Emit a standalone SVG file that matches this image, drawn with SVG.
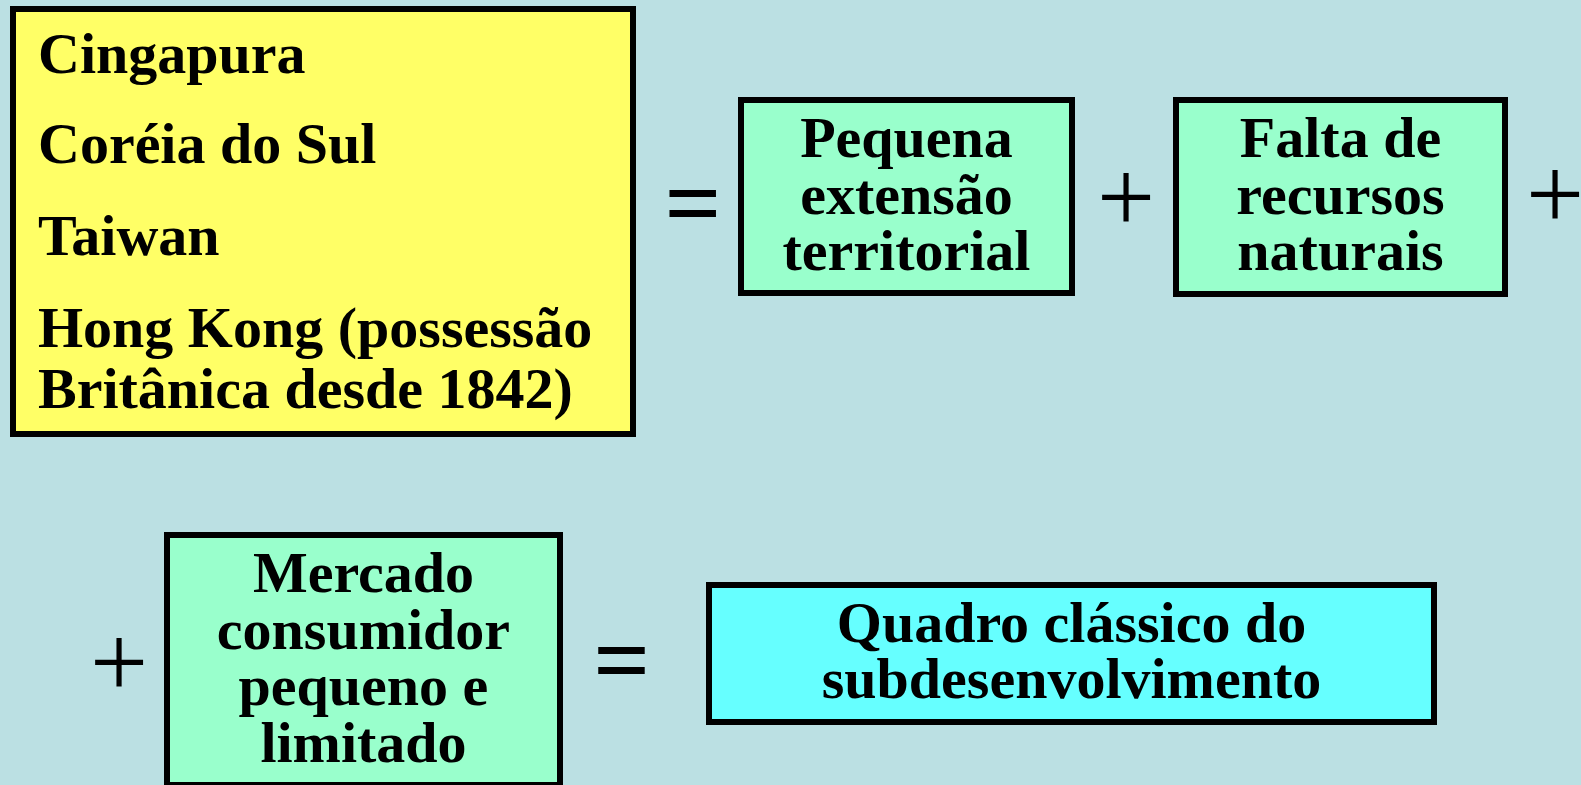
<svg xmlns="http://www.w3.org/2000/svg" width="1581" height="785" viewBox="0 0 1581 785">
  <style>
    .box { stroke: #000000; stroke-width: 6; }
    .yellow { fill: #FFFF66; }
    .green { fill: #99FFCC; }
    .cyan { fill: #66FFFF; }
    .t { font-family: "Liberation Serif", "Times New Roman", serif; font-weight: bold; font-size: 58px; fill: #000000; }
    .c { text-anchor: middle; }
    .op { font-family: "Liberation Serif", "Times New Roman", serif; font-weight: bold; font-size: 100px; fill: #000000; text-anchor: middle; }
    .plus { font-weight: normal; font-size: 103px; }
  </style>
  <rect x="0" y="0" width="1581" height="785" fill="#BBE0E3"/>

  <g id="node-countries">
    <rect class="box yellow" x="13" y="9" width="620" height="425"/>
    <text class="t" x="38" y="73">Cingapura</text>
    <text class="t" x="38" y="163">Coréia do Sul</text>
    <text class="t" x="38" y="255">Taiwan</text>
    <text class="t" x="38" y="347">Hong Kong (possessão</text>
    <text class="t" x="38" y="408">Britânica desde 1842)</text>
  </g>

  <g id="node-extensao">
    <rect class="box green" x="741" y="100" width="331" height="193"/>
    <text class="t c" x="906.5" y="157">Pequena</text>
    <text class="t c" x="906.5" y="213.5">extensão</text>
    <text class="t c" x="906.5" y="270">territorial</text>
  </g>

  <g id="node-recursos">
    <rect class="box green" x="1176" y="100" width="329" height="194"/>
    <text class="t c" x="1340.5" y="157">Falta de</text>
    <text class="t c" x="1340.5" y="213.5">recursos</text>
    <text class="t c" x="1340.5" y="270">naturais</text>
  </g>

  <g id="node-mercado">
    <rect class="box green" x="167" y="535" width="393" height="250"/>
    <text class="t c" x="363.5" y="592">Mercado</text>
    <text class="t c" x="363.5" y="648.5">consumidor</text>
    <text class="t c" x="363.5" y="705">pequeno e</text>
    <text class="t c" x="363.5" y="761.5">limitado</text>
  </g>

  <g id="node-quadro">
    <rect class="box cyan" x="709" y="585" width="725" height="137"/>
    <text class="t c" x="1071.5" y="641.7">Quadro clássico do</text>
    <text class="t c" x="1071.5" y="698.3">subdesenvolvimento</text>
  </g>

  <g id="connectors">
    <text class="op" x="693" y="237">=</text>
    <text class="op plus" x="1126" y="232">+</text>
    <text class="op plus" x="1555" y="229">+</text>
    <text class="op plus" x="119" y="697">+</text>
    <text class="op" x="621.7" y="694">=</text>
  </g>
</svg>
